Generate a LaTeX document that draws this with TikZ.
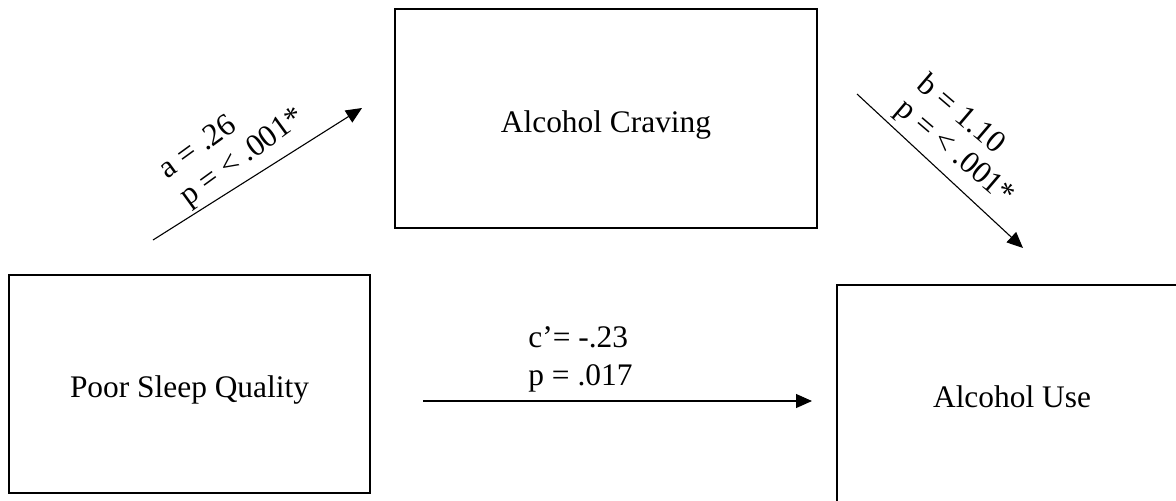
\documentclass[tikz,border=0pt]{standalone}
\usepackage{fontspec}
\setmainfont{Liberation Serif}
\usetikzlibrary{arrows.meta}
\begin{document}
\begin{tikzpicture}[x=0.5pt,y=-0.5pt,
  boxnode/.style={draw, line width=1.1pt, rectangle, inner sep=0pt,
    text height=13.5pt, text depth=0pt,
    font=\fontsize{15.7pt}{18pt}\selectfont},
  arr/.style={line width=0.55pt, -{Triangle[length=8pt,width=7pt]}},
  lbl/.style={inner sep=0pt, anchor=base west, font=\fontsize{15.7pt}{18pt}\selectfont}
]
\useasboundingbox (0,0) rectangle (1176,500);
\clip (0,0) rectangle (1176,500);

\node[boxnode, minimum width=211pt, minimum height=109.5pt] (craving) at (606,118.5) {Alcohol Craving};
\node[boxnode, minimum width=180.5pt, minimum height=109pt] (sleep) at (189.5,384) {Poor Sleep Quality};
\node[boxnode, minimum width=175pt, minimum height=108.5pt] (use) at (1012,393.5) {Alcohol Use};

\coordinate (a0) at (153,240);
\coordinate (a1) at (362,108);
\coordinate (b0) at (857,94);
\coordinate (b1) at (1023,248);
\coordinate (c0) at (423,401);
\coordinate (c1) at (812,401);

\draw[arr] (a0) -- (a1);
\draw[arr] (b0) -- (b1);
\draw[arr] (c0) -- (c1);

\node[lbl, rotate=36] (a1lbl) at (167.5,180) {a = .26};
\node[lbl, rotate=36] (a2lbl) at (188,207) {p = < .001*};
\node[lbl, rotate=-40.5] (b1lbl) at (915.5,87) {b = 1.10};
\node[lbl, rotate=-40.5] (b2lbl) at (894,111.5) {p = < .001*};
\node[lbl] (c1lbl) at (528,347) {c’= -.23};
\node[lbl] (c2lbl) at (528,385) {p = .017};
\end{tikzpicture}
\end{document}
